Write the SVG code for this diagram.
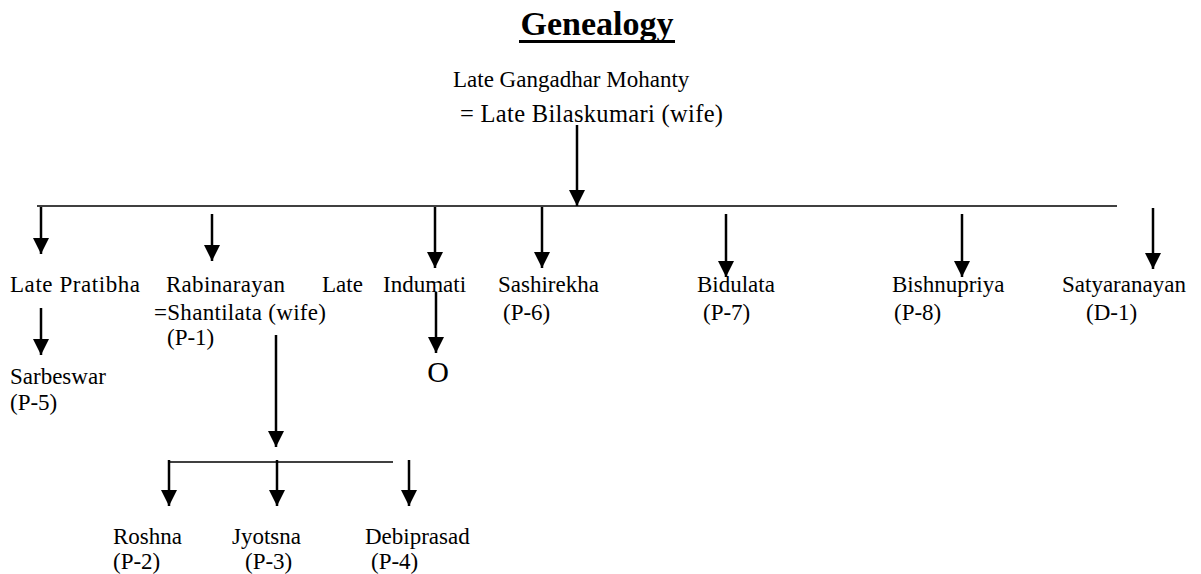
<svg xmlns="http://www.w3.org/2000/svg" width="1201" height="574" viewBox="0 0 1201 574" font-family="'Liberation Serif', Tinos, 'DejaVu Serif', serif">
<style>
text{font-family:'Liberation Serif',Tinos,'DejaVu Serif',serif;font-size:23px;font-weight:normal;fill:#000}
.title{font-size:34px;font-weight:bold}
.big{font-size:30px}
.arr{stroke:#000;stroke-width:2.5;fill:none;marker-end:url(#ah)}
.hl{stroke:#000;stroke-width:1.6}
</style>
<defs>
<marker id="ah" markerUnits="userSpaceOnUse" markerWidth="16" markerHeight="17" refX="16" refY="8" orient="auto" viewBox="0 0 16 16">
<path d="M0,0 L16,8 L0,16 z" fill="#000"/>
</marker>
</defs>
<rect width="1201" height="574" fill="#fff"/>
<g id="title">
<text class="title" x="597" y="35" text-anchor="middle">Genealogy</text>
<rect x="519" y="40" width="156" height="3" fill="#000"/>
</g>
<g id="connectors">
<line class="hl" x1="37" y1="206" x2="1117" y2="206"/>
<line class="hl" x1="168" y1="462" x2="393" y2="462"/>
<line class="arr" x1="577" y1="125" x2="577" y2="206"/>
<line class="arr" x1="41" y1="207" x2="41" y2="254"/>
<line class="arr" x1="212" y1="214" x2="212" y2="261"/>
<line class="arr" x1="435" y1="207" x2="435" y2="268"/>
<line class="arr" x1="542" y1="207" x2="542" y2="268"/>
<line class="arr" x1="726" y1="214" x2="726" y2="277"/>
<line class="arr" x1="962" y1="214" x2="962" y2="277"/>
<line class="arr" x1="1153" y1="208" x2="1153" y2="269"/>
<line class="arr" x1="41" y1="308" x2="41" y2="355"/>
<line class="arr" x1="436" y1="292" x2="436" y2="353"/>
<line class="arr" x1="276" y1="335" x2="276" y2="447"/>
<line class="arr" x1="169" y1="460" x2="169" y2="506"/>
<line class="arr" x1="277" y1="460" x2="277" y2="506"/>
<line class="arr" x1="409" y1="460" x2="409" y2="506"/>
</g>
<g id="root">
<text x="453" y="87">Late Gangadhar Mohanty</text>
<text x="460" y="122" style="font-size:24.5px" textLength="263" lengthAdjust="spacing">= Late Bilaskumari (wife)</text>
</g>
<g id="pratibha"><text x="10" y="292" textLength="130" lengthAdjust="spacing">Late Pratibha</text></g>
<g id="rabinarayan">
<text x="166" y="292" textLength="119" lengthAdjust="spacing">Rabinarayan</text>
<text x="154" y="320" textLength="172" lengthAdjust="spacing">=Shantilata (wife)</text>
<text x="167" y="345">(P-1)</text>
</g>
<g id="indumati"><text x="322" y="292">Late <tspan x="383">Indumati</tspan></text></g>
<g id="sashirekha"><text x="498" y="292">Sashirekha</text><text x="503" y="320">(P-6)</text></g>
<g id="bidulata"><text x="697" y="292">Bidulata</text><text x="703" y="320">(P-7)</text></g>
<g id="bishnupriya"><text x="892" y="292">Bishnupriya</text><text x="894" y="320">(P-8)</text></g>
<g id="satyaranayan"><text x="1062" y="292">Satyaranayan</text><text x="1086" y="320">(D-1)</text></g>
<g id="sarbeswar"><text x="10" y="384">Sarbeswar</text><text x="10" y="410">(P-5)</text></g>
<g id="o-node"><text class="big" x="438" y="382" text-anchor="middle">O</text></g>
<g id="roshna"><text x="113" y="544">Roshna</text><text x="113" y="569">(P-2)</text></g>
<g id="jyotsna"><text x="232" y="544">Jyotsna</text><text x="245" y="569">(P-3)</text></g>
<g id="debiprasad"><text x="365" y="544">Debiprasad</text><text x="371" y="569">(P-4)</text></g>
</svg>
